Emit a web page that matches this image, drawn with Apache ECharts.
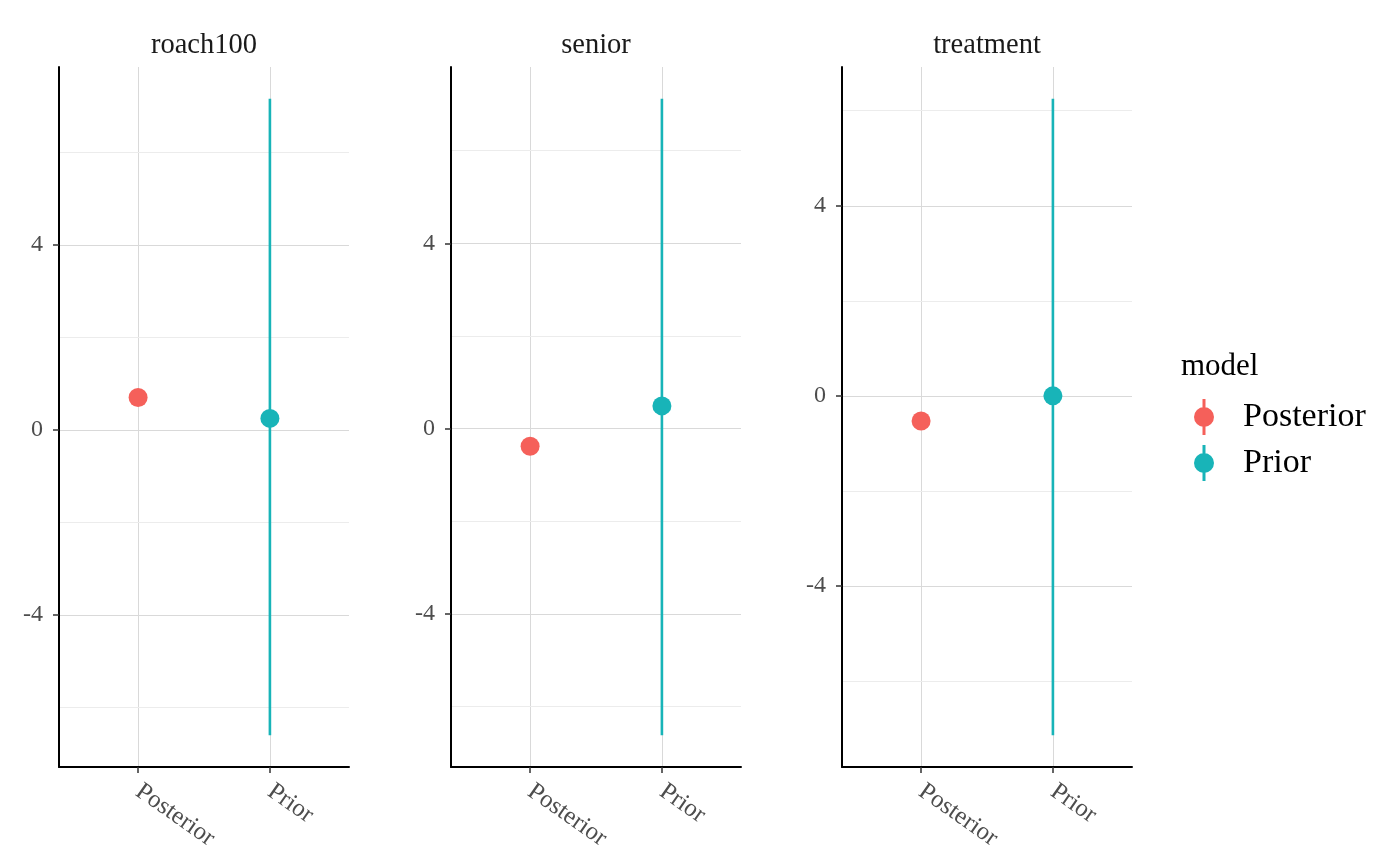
<!DOCTYPE html>
<html>
<head>
<meta charset="utf-8">
<script src="https://cdn.jsdelivr.net/npm/echarts@6/dist/echarts.min.js"></script>
<style>html,body{margin:0;padding:0;background:#fff;}#c{width:1400px;height:866px;}</style>
</head>
<body>
<div id="c"></div>
<script>
const panels = ['roach100', 'senior', 'treatment'];
const categories = ['Posterior', 'Prior'];
const posteriorMid = [0.70, -0.38, -0.53];
const posteriorLo = [0.62, -0.46, -0.61];
const posteriorHi = [0.78, -0.30, -0.45];
const priorMid = [0.25, 0.49, 0.00];
const priorLo = [-6.60, -6.62, -7.14];
const priorHi = [7.16, 7.12, 6.25];
const yTickValues = [-4, 0, 4];
const yMinorValues = [-6, -2, 2, 6];
const legendTitle = 'model';

const COLORS = { Posterior: '#F5605A', Prior: '#18B4B8' };
const FONT = 'Liberation Serif';
const gridLefts = [59, 451, 842];
const gridW = 290, gridTop = 67, gridH = 700;

const chart = echarts.init(document.getElementById('c'));
const grid = [], xAxis = [], yAxis = [], series = [], title = [];

function errRender(params, api) {
  const x = api.value(0);
  const p1 = api.coord([x, api.value(1)]);
  const p2 = api.coord([x, api.value(2)]);
  return { type: 'line', shape: { x1: p1[0], y1: p1[1], x2: p2[0], y2: p2[1] },
           style: { stroke: api.visual('color'), lineWidth: 2.6 } };
}

panels.forEach((p, i) => {
  const lo = Math.min(posteriorLo[i], priorLo[i]);
  const hi = Math.max(posteriorHi[i], priorHi[i]);
  const pad = (hi - lo) * 0.05;
  const ymin = lo - pad, ymax = hi + pad;
  grid.push({ left: gridLefts[i], top: gridTop, width: gridW, height: gridH, containLabel: false });
  title.push({ text: p, left: gridLefts[i] + gridW / 2, top: 31, textAlign: 'center', padding: 0,
               textStyle: { fontFamily: FONT, fontSize: 28.5, fontWeight: 'normal', color: '#1a1a1a' } });
  xAxis.push({
    type: 'value', gridIndex: i, min: 0.4, max: 2.6,
    axisLine: { show: true, onZero: false, lineStyle: { color: '#000', width: 2 } },
    axisTick: { show: true, customValues: [1, 2], length: 6, lineStyle: { color: '#333', width: 1.5 } },
    axisLabel: { customValues: [1, 2], formatter: v => categories[Math.round(v) - 1] || '',
                 rotate: -35, margin: 22, fontFamily: FONT, fontSize: 25, color: '#4d4d4d' },
    splitLine: { show: true, lineStyle: { color: '#d9d9d9', width: 1 } }
  });
  yAxis.push({
    type: 'value', gridIndex: i, min: ymin, max: ymax,
    axisLine: { show: true, onZero: false, lineStyle: { color: '#000', width: 2 } },
    axisTick: { show: true, customValues: yTickValues, length: 6, lineStyle: { color: '#333', width: 1.5 } },
    axisLabel: { customValues: yTickValues, margin: 16, fontFamily: FONT, fontSize: 24, color: '#4d4d4d',
                 padding: [6, 0, 0, 0], formatter: v => String(v) },
    splitLine: { show: true, lineStyle: { color: '#d9d9d9', width: 1 } },
    z: 2
  });
  yAxis.push({
    type: 'value', gridIndex: i, min: ymin, max: ymax, position: 'left',
    axisLine: { show: false },
    axisTick: { show: false, customValues: yMinorValues },
    axisLabel: { show: false, customValues: yMinorValues },
    splitLine: { show: true, lineStyle: { color: '#ececec', width: 1 } },
    z: 1
  });
  const yIdx = i * 2;
  series.push({ type: 'custom', name: 'Posterior', xAxisIndex: i, yAxisIndex: yIdx,
    itemStyle: { color: COLORS.Posterior }, renderItem: errRender, encode: { x: 0, y: [1, 2] },
    data: [[1, posteriorLo[i], posteriorHi[i]]], z: 3 });
  series.push({ type: 'custom', name: 'Prior', xAxisIndex: i, yAxisIndex: yIdx,
    itemStyle: { color: COLORS.Prior }, renderItem: errRender, encode: { x: 0, y: [1, 2] },
    data: [[2, priorLo[i], priorHi[i]]], z: 3 });
  series.push({ type: 'scatter', name: 'Posterior', xAxisIndex: i, yAxisIndex: yIdx,
    symbolSize: 19, itemStyle: { color: COLORS.Posterior, opacity: 1 }, data: [[1, posteriorMid[i]]], z: 4 });
  series.push({ type: 'scatter', name: 'Prior', xAxisIndex: i, yAxisIndex: yIdx,
    symbolSize: 19, itemStyle: { color: COLORS.Prior, opacity: 1 }, data: [[2, priorMid[i]]], z: 4 });
});

title.push({ text: legendTitle, left: 1181, top: 351, padding: 0,
  textStyle: { fontFamily: FONT, fontSize: 31, fontWeight: 'normal', color: '#000' } });

chart.setOption({
  animation: false,
  backgroundColor: '#fff',
  title: title,
  grid: grid,
  xAxis: xAxis,
  yAxis: yAxis,
  legend: {
    data: categories, orient: 'vertical', left: 1194, top: 399, padding: 0,
    itemWidth: 20, itemHeight: 36, itemGap: 10,
    icon: 'path://M-1.5,-18 L1.5,-18 L1.5,18 L-1.5,18 Z M0,-10 A10,10 0 1,1 0,10 A10,10 0 1,1 0,-10 Z',
    textStyle: { fontFamily: FONT, fontSize: 34, color: '#000', padding: [0, 0, 0, 24] },
    selectedMode: false
  },
  series: series
});
</script>
</body>
</html>
